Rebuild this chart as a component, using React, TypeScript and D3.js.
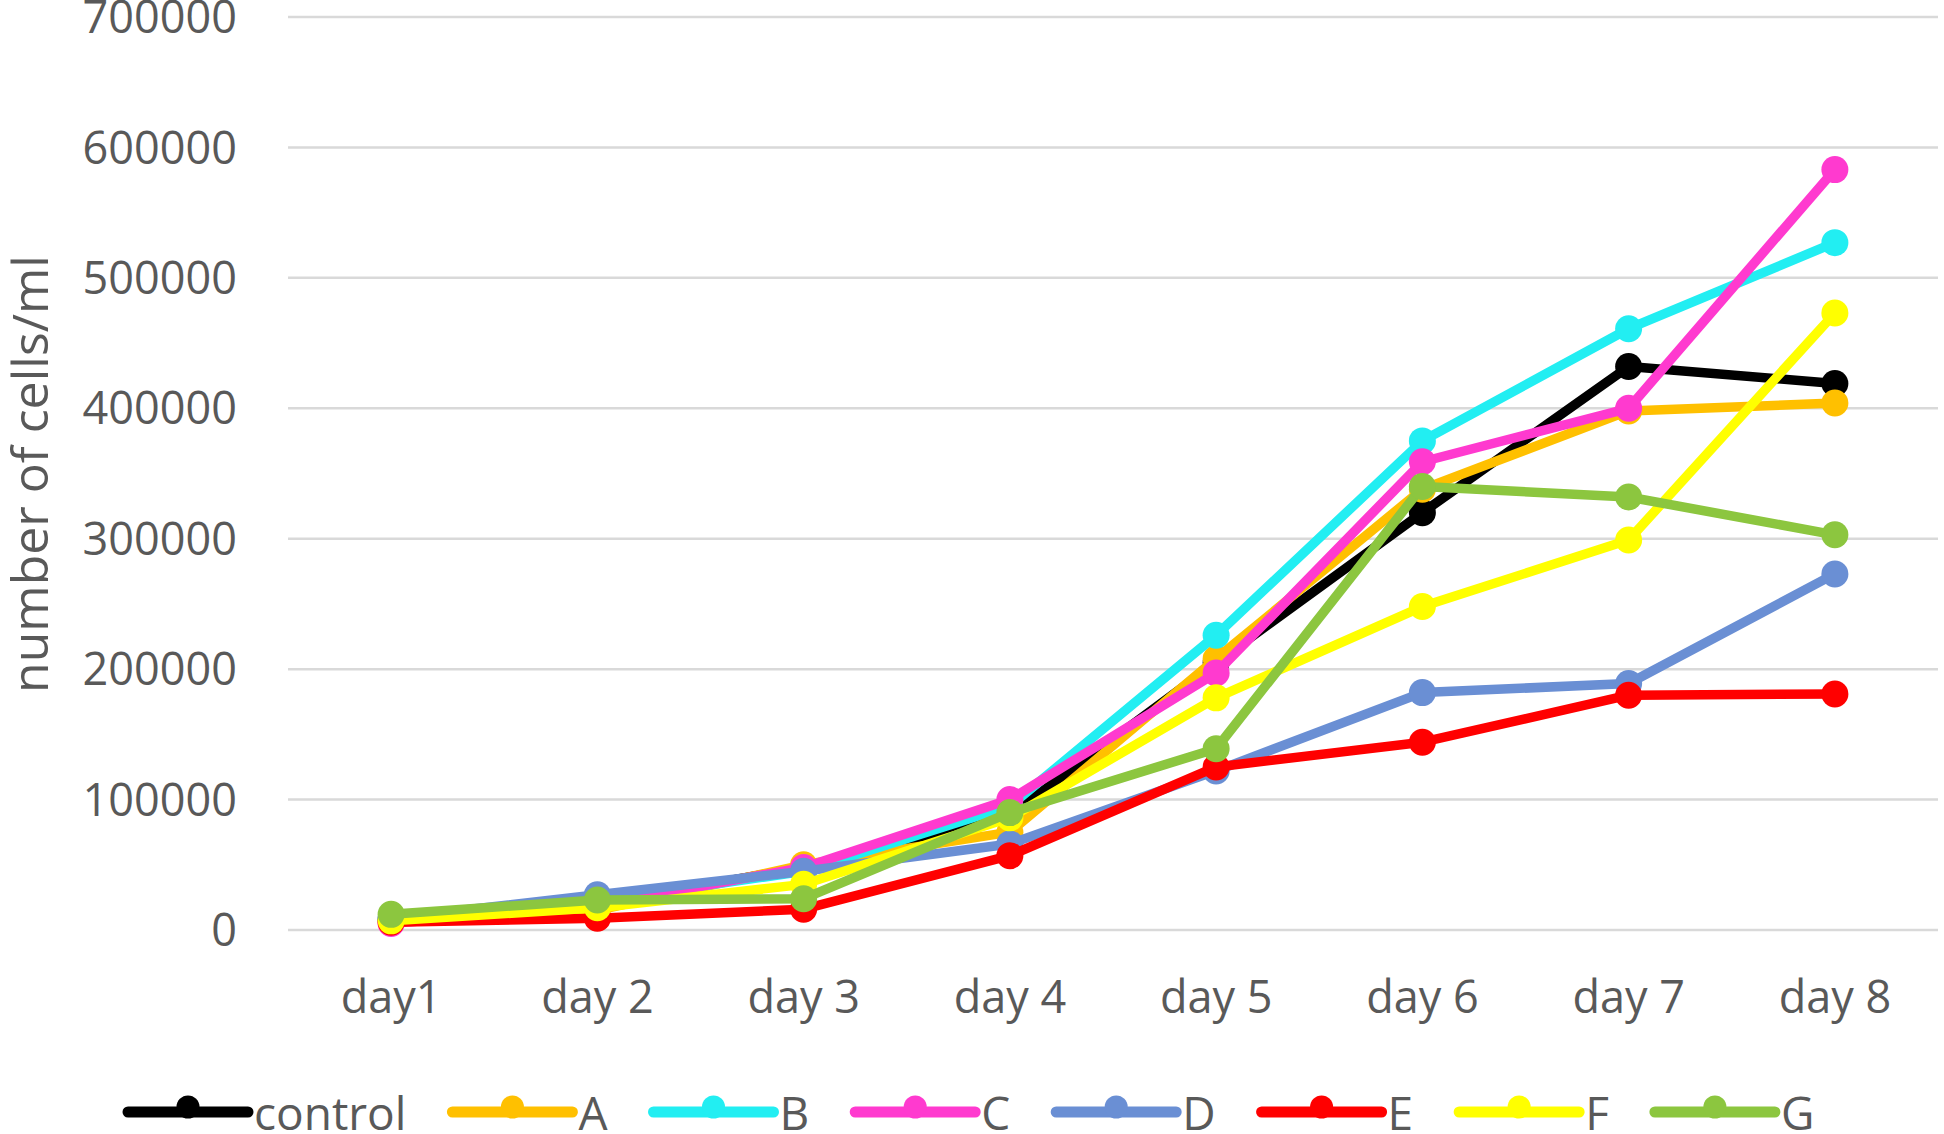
import * as React from 'react'
import * as d3 from 'd3'

const days = ['day1', 'day 2', 'day 3', 'day 4', 'day 5', 'day 6', 'day 7', 'day 8']
const names = ['control', 'A', 'B', 'C', 'D', 'E', 'F', 'G']
const colors = ['#000000', '#FFC000', '#22EEF2', '#FF3ACF', '#6A8FD4', '#FF0000', '#FFFF00', '#8CC63F']

const control = [8000, 20000, 48000, 88000, 205000, 320000, 432000, 419000]
const seriesA = [7000, 15000, 50000, 75000, 208000, 338000, 398000, 404000]
const seriesB = [7000, 22000, 45000, 95000, 226000, 375000, 461000, 527000]
const seriesC = [5000, 19000, 48000, 100000, 197000, 359000, 400000, 583000]
const seriesD = [9000, 27000, 45000, 66000, 122000, 182000, 189000, 273000]
const seriesE = [6000, 9000, 16000, 57000, 125000, 144000, 180000, 181000]
const seriesF = [7000, 17000, 35000, 86000, 178000, 248000, 299000, 473000]
const seriesG = [12000, 23000, 24000, 90000, 139000, 340000, 332000, 303000]

const yTicks = [0, 100000, 200000, 300000, 400000, 500000, 600000, 700000]

const allValues = [control, seriesA, seriesB, seriesC, seriesD, seriesE, seriesF, seriesG]

const W = 1944
const H = 1134
const FONT = '"Open Sans", "Noto Sans", sans-serif'
const TEXT = '#595959'

export default class App extends React.Component {
  ref: any
  constructor(props) {
    super(props)
    this.ref = React.createRef()
  }

  componentDidMount() {
    this.draw()
  }

  draw() {
    const svg = d3.select(this.ref.current)
    svg.selectAll('*').remove()

    const x = d3.scalePoint().domain(days).range([288, 1938]).padding(0.5)
    const y = d3.scaleLinear().domain([0, 700000]).range([930, 17])

    // gridlines
    svg.append('g')
      .selectAll('line')
      .data(yTicks)
      .join('line')
      .attr('x1', 288)
      .attr('x2', 1938)
      .attr('y1', d => y(d))
      .attr('y2', d => y(d))
      .attr('stroke', '#d9d9d9')
      .attr('stroke-width', 2.5)

    // y labels
    svg.append('g')
      .selectAll('text')
      .data(yTicks)
      .join('text')
      .attr('x', 237)
      .attr('y', d => y(d))
      .attr('dy', '0.36em')
      .attr('text-anchor', 'end')
      .attr('font-family', FONT)
      .attr('font-size', 45)
      .attr('fill', TEXT)
      .text(d => d)

    // x labels
    svg.append('g')
      .selectAll('text')
      .data(days)
      .join('text')
      .attr('x', d => x(d))
      .attr('y', 1013)
      .attr('text-anchor', 'middle')
      .attr('font-family', FONT)
      .attr('font-size', 45)
      .attr('fill', TEXT)
      .text(d => d)

    // axis title
    svg.append('text')
      .attr('transform', 'translate(48, 474) rotate(-90)')
      .attr('text-anchor', 'middle')
      .attr('font-family', FONT)
      .attr('font-size', 50)
      .attr('fill', TEXT)
      .text('number of cells/ml')

    const series = names.map((name, i) => ({ name, color: colors[i], values: allValues[i] }))

    const line = d3.line<number>()
      .x((d, i) => x(days[i]))
      .y(d => y(d))

    const g = svg.append('g')
    series.forEach(s => {
      const sg = g.append('g')
      sg.append('path')
        .attr('d', line(s.values))
        .attr('fill', 'none')
        .attr('stroke', s.color)
        .attr('stroke-width', 9.5)
        .attr('stroke-linejoin', 'round')
        .attr('stroke-linecap', 'round')
      sg.selectAll('circle')
        .data(s.values)
        .join('circle')
        .attr('cx', (d, i) => x(days[i]))
        .attr('cy', d => y(d))
        .attr('r', 13.5)
        .attr('fill', s.color)
    })

    // legend
    const legend = svg.append('g')
    let cx = 128
    const ly = 1112
    series.forEach(s => {
      const item = legend.append('g')
      item.append('line')
        .attr('x1', cx)
        .attr('x2', cx + 120)
        .attr('y1', ly)
        .attr('y2', ly)
        .attr('stroke', s.color)
        .attr('stroke-width', 11)
        .attr('stroke-linecap', 'round')
      item.append('circle')
        .attr('cx', cx + 60)
        .attr('cy', ly - 5)
        .attr('r', 11.5)
        .attr('fill', s.color)
      const t = item.append('text')
        .attr('x', cx + 126)
        .attr('y', 1130)
        .attr('font-family', FONT)
        .attr('font-size', 46)
        .attr('fill', TEXT)
        .text(s.name)
      const tw = (t.node() as SVGTextElement).getComputedTextLength()
      cx += 126 + tw + 46
    })
  }

  render() {
    return (
      <svg
        ref={this.ref}
        width={W}
        height={H}
        style={{ position: 'absolute', left: 0, top: 0, background: '#fff' }}
      />
    )
  }
}
